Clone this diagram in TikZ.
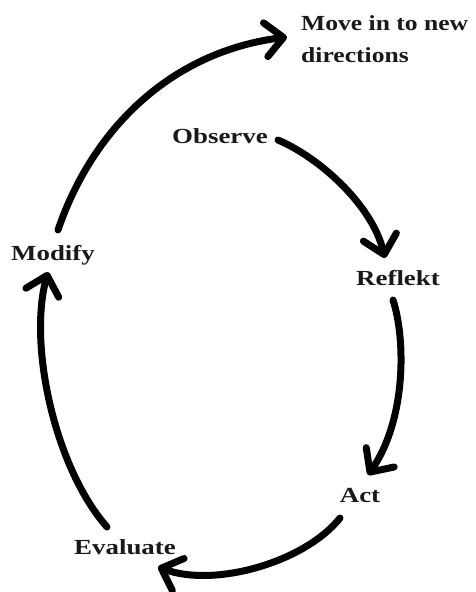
\documentclass[tikz,border=0pt]{standalone}
\usepackage{fontspec}
\usepackage{graphicx}
\setmainfont{Liberation Serif}
\usetikzlibrary{arrows.meta}
% labels are set in a slightly widened bold serif
\newcommand\widetext[2][1.25]{\scalebox{#1}[1]{#2}}
\begin{document}
\begin{tikzpicture}[x=1pt,y=-1pt,
  label/.style={font=\fontsize{21.5}{32}\selectfont\bfseries, text=black!90, inner sep=0pt},
  flow/.style={line width=7pt, line cap=round, line join=round,
    -{Straight Barb[length=18pt,width=34pt,line width=7pt,round]}}]
  \useasboundingbox[fill=white] (0,0) rectangle (475,592);

  % stage labels
  \node[label, anchor=base] (obs) at (220,143) {\widetext{Observe}};
  \node[label, anchor=base] (ref) at (398,285) {\widetext{Reflekt}};
  \node[label, anchor=base] (act) at (360,502) {\widetext{Act}};
  \node[label, anchor=base] (eva) at (125,554) {\widetext{Evaluate}};
  \node[label, anchor=base] (mod) at (53,260) {\widetext{Modify}};
  % two-line label: the base anchor sits on the last line's baseline
  \node[label, anchor=base west, align=left] (new) at (301,62)
    {\widetext[1.19]{Move in to new}\\\widetext[1.19]{directions}};

  % arrow end points
  \coordinate (o1) at (278,140);  \coordinate (r0) at (385,258);
  \coordinate (r1) at (393,300);  \coordinate (a0) at (368,475);
  \coordinate (a1) at (340,518);  \coordinate (e0) at (158,567);
  \coordinate (e1) at (107,527);  \coordinate (m0) at (48,272);
  \coordinate (m1) at (58,230);   \coordinate (n0) at (287,37);

  % the cycle
  \draw[flow] (o1) .. controls (320,158) and (372,205) .. (r0);
  \draw[flow] (r1) .. controls (406,340) and (406,420) .. (a0);
  \draw[flow] (a1) .. controls (305,562) and (215,588) .. (e0);
  \draw[flow] (e1) .. controls (55,468) and (28,345) .. (m0);
  \draw[flow] (m1) .. controls (92,130) and (170,52) .. (n0);
\end{tikzpicture}
\end{document}
